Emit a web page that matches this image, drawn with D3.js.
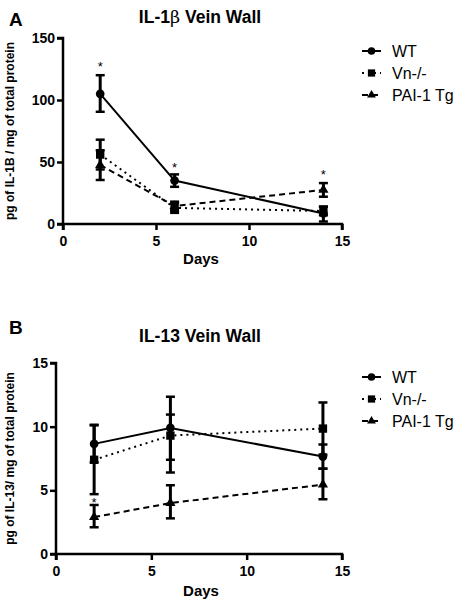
<!DOCTYPE html>
<html><head><meta charset="utf-8">
<script src="https://cdn.jsdelivr.net/npm/d3@7"></script>
<style>body{margin:0;background:#fff}svg{display:block}text{font-family:Arial,"Liberation Sans",sans-serif;fill:#000}</style>
</head><body><div id="c"></div>
<script>
const days = [2, 6, 14];
const seriesNames = ["WT", "Vn-/-", "PAI-1 Tg"];
// Panel A: IL-1β
const aWT = [105, 35, 8.5];
const aWTlo = [90.5, 30, 2];
const aWThi = [120, 40, 14];
const aVn = [56, 13, 10.5];
const aVnlo = [44, 9, 7];
const aVnhi = [68, 17, 14];
const aPAI = [47.5, 14.5, 27.5];
const aPAIlo = [35.5, 11, 22];
const aPAIhi = [59.5, 18, 33];
const aStars = [[2, 128], [6, 47], [14, 41]];
const aYTicks = [0, 50, 100, 150];
// Panel B: IL-13
const bWT = [8.65, 9.9, 7.65];
const bWTlo = [7.2, 7.4, 6.7];
const bWThi = [10.15, 12.35, 8.6];
const bVn = [7.4, 9.3, 9.85];
const bVnlo = [4.7, 6.4, 7.8];
const bVnhi = [10.1, 10.95, 11.9];
const bPAI = [2.9, 4.0, 5.45];
const bPAIlo = [2.1, 2.8, 4.3];
const bPAIhi = [3.85, 5.4, 6.7];
const bStars = [[2, 4.2]];
const bYTicks = [0, 5, 10, 15];
const xTicks = [0, 5, 10, 15];

const svg = d3.select("#c").append("svg").attr("width", 455).attr("height", 600);

function panel(o) {
  const x = d3.scaleLinear().domain([0, 15]).range([o.x0, o.x1]);
  const y = d3.scaleLinear().domain([0, o.ymax]).range([o.y0, o.y1]);
  const g = svg.append("g");
  const ax = g.append("g").attr("transform", `translate(0,${o.y0})`)
    .call(d3.axisBottom(x).tickValues(xTicks).tickSize(6).tickPadding(6).tickFormat(d3.format("d")));
  const ay = g.append("g").attr("transform", `translate(${o.x0},0)`)
    .call(d3.axisLeft(y).tickValues(o.yTicks).tickSize(6).tickPadding(2).tickFormat(d3.format("d")));
  [ax, ay].forEach(a => {
    a.select(".domain").attr("stroke", "#000").attr("stroke-width", 2.5);
    a.selectAll(".tick line").attr("stroke", "#000").attr("stroke-width", 2.5);
    a.selectAll(".tick text").attr("font-size", 14).attr("font-weight", "bold")
      .attr("font-family", "Arial, Liberation Sans, sans-serif").attr("fill", "#000");
  });
  ax.select(".domain").attr("d", `M${o.x0},6V0H${o.x1}V6`);
  ay.select(".domain").attr("d", `M-6,${o.y1}H0V${o.y0}H-6`);

  const styles = [
    {dash: null, sw: 2},
    {dash: "2,4", sw: 2},
    {dash: "6,4", sw: 2}
  ];
  const line = d3.line().x((d, i) => x(days[i])).y(d => y(d));
  o.series.forEach((s, k) => {
    g.append("path").datum(s.v).attr("d", line).attr("fill", "none")
      .attr("stroke", "#000").attr("stroke-width", styles[k].sw)
      .attr("stroke-dasharray", styles[k].dash);
  });
  o.series.forEach((s, k) => {
    days.forEach((d, i) => {
      const cx = x(d);
      g.append("line").attr("x1", cx).attr("x2", cx).attr("y1", y(s.lo[i])).attr("y2", y(s.hi[i]))
        .attr("stroke", "#000").attr("stroke-width", 3);
      [s.lo[i], s.hi[i]].forEach(v => {
        g.append("line").attr("x1", cx - 4.5).attr("x2", cx + 4.5).attr("y1", y(v)).attr("y2", y(v))
          .attr("stroke", "#000").attr("stroke-width", 2.5);
      });
    });
  });
  const sym = [d3.symbolCircle, d3.symbolSquare, d3.symbolTriangle];
  const sizes = [60, 70, 45];
  o.series.forEach((s, k) => {
    days.forEach((d, i) => {
      g.append("path").attr("d", d3.symbol(sym[k], sizes[k])())
        .attr("transform", `translate(${x(d)},${y(s.v[i])})`).attr("fill", "#000");
    });
  });
  o.stars.forEach(st => {
    g.append("text").attr("x", x(st[0])).attr("y", y(st[1]) + 6).attr("text-anchor", "middle")
      .attr("font-size", 13).text("*");
  });
  g.append("text").attr("x", 200).attr("y", o.titleY).attr("text-anchor", "middle")
    .attr("font-size", 17.5).attr("font-weight", "bold").html(o.title);
  g.append("text").attr("x", 9).attr("y", o.letterY).attr("font-size", 19).attr("font-weight", "bold").text(o.letter);
  g.append("text").attr("transform", `translate(14,${(o.y0 + o.y1) / 2}) rotate(-90)`)
    .attr("text-anchor", "middle").attr("font-size", 12).attr("font-weight", "bold").text(o.ylabel);
  g.append("text").attr("x", 201).attr("y", o.daysY).attr("text-anchor", "middle")
    .attr("font-size", 15).attr("font-weight", "bold").text("Days");
  seriesNames.forEach((n, k) => {
    const ly = o.legY + k * 22;
    g.append("line").attr("x1", 362).attr("x2", 381).attr("y1", ly).attr("y2", ly)
      .attr("stroke", "#000").attr("stroke-width", 2).attr("stroke-dasharray", styles[k].dash);
    g.append("path").attr("d", d3.symbol(sym[k], sizes[k] * 0.75)()).attr("transform", `translate(371.5,${ly})`).attr("fill", "#000");
    g.append("text").attr("x", 392).attr("y", ly + 6).attr("font-size", 16).text(n);
  });
}

panel({
  x0: 63, x1: 342, y0: 224, y1: 38, ymax: 150, yTicks: aYTicks,
  series: [{v: aWT, lo: aWTlo, hi: aWThi}, {v: aVn, lo: aVnlo, hi: aVnhi}, {v: aPAI, lo: aPAIlo, hi: aPAIhi}],
  stars: aStars, title: "IL-1<tspan font-family='DejaVu Serif, serif' font-weight='normal'>β</tspan> Vein Wall",
  titleY: 23, letter: "A", letterY: 26, ylabel: "pg of IL-1B / mg of total protein",
  daysY: 264, legY: 51
});
panel({
  x0: 56, x1: 342, y0: 554, y1: 363, ymax: 15, yTicks: bYTicks,
  series: [{v: bWT, lo: bWTlo, hi: bWThi}, {v: bVn, lo: bVnlo, hi: bVnhi}, {v: bPAI, lo: bPAIlo, hi: bPAIhi}],
  stars: bStars, title: "IL-13 Vein Wall",
  titleY: 342, letter: "B", letterY: 334, ylabel: "pg of IL-13/ mg of total protein",
  daysY: 596, legY: 377
});
</script></body></html>
